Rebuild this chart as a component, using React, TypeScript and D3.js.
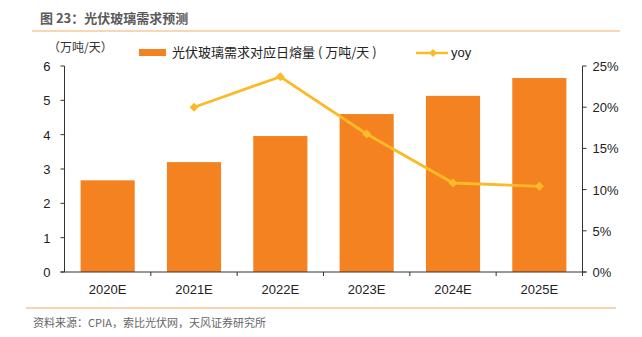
import React from "react";
import * as d3 from "d3";

const categories = ["2020E", "2021E", "2022E", "2023E", "2024E", "2025E"];
const meltVolume = [2.67, 3.2, 3.96, 4.6, 5.13, 5.65];
const yoy: (number | null)[] = [null, 0.2, 0.237, 0.1675, 0.108, 0.104];
const leftTicks = [0, 1, 2, 3, 4, 5, 6];
const rightTicks = [0, 0.05, 0.1, 0.15, 0.2, 0.25];

const BAR = "#F58220";
const LINE = "#FBBA28";
const FONT = "Arial, 'Liberation Sans', 'Noto Sans CJK SC', sans-serif";

export default function App() {
  const W = 642, H = 337;
  const x0 = 64.5, x1 = 582.5, yTop = 66, yBot = 272;
  const x = d3.scaleBand<string>().domain(categories).range([x0, x1]).paddingInner(0.373).paddingOuter(0.1865);
  const band = d3.scaleBand<string>().domain(categories).range([x0, x1]);
  const yL = d3.scaleLinear().domain([0, 6]).range([yBot, yTop]);
  const yR = d3.scaleLinear().domain([0, 0.25]).range([yBot, yTop]);
  const pts = categories
    .map((c, i) => ({ c, v: yoy[i] }))
    .filter((d) => d.v !== null) as { c: string; v: number }[];
  const line = d3
    .line<{ c: string; v: number }>()
    .x((d) => band(d.c)! + band.bandwidth() / 2)
    .y((d) => yR(d.v));
  const diamond = (cx: number, cy: number, r: number) =>
    `M${cx},${cy - r}L${cx + r},${cy}L${cx},${cy + r}L${cx - r},${cy}Z`;

  return (
    <svg width={W} height={H} style={{ position: "absolute", left: 0, top: 0, background: "#fff" }} fontFamily={FONT}>
      <text x={40} y={23} fontSize={13} fontWeight="bold" fill="#5a5a5a" fontFamily="'Noto Sans CJK SC', sans-serif">图 23：光伏玻璃需求预测</text>
      <line x1={32} x2={620} y1={31} y2={31} stroke="#F8C89C" strokeWidth={1.5} />

      <text x={48} y={52} fontSize={12} fill="#333" fontFamily="'Noto Sans CJK SC', sans-serif">（万吨/天）</text>

      {/* legend */}
      <rect x={139} y={49} width={27} height={7} fill={BAR} />
      <text x={172} y={57} fontSize={13} fill="#222" fontFamily="'Noto Sans CJK SC', sans-serif">光伏玻璃需求对应日熔量 ( 万吨/天 )</text>
      <line x1={416} x2={448} y1={53} y2={53} stroke={LINE} strokeWidth={2.5} />
      <path d={diamond(433, 53, 4)} fill={LINE} />
      <text x={451} y={57} fontSize={13} fill="#222">yoy</text>

      {/* bars */}
      {categories.map((c, i) => (
        <rect key={c} x={x(c)} y={yL(meltVolume[i])} width={x.bandwidth()} height={yBot - yL(meltVolume[i])} fill={BAR} />
      ))}

      {/* left axis */}
      <line x1={x0} x2={x0} y1={yTop} y2={yBot} stroke="#333" strokeWidth={1} />
      {leftTicks.map((t) => (
        <g key={t}>
          <line x1={x0 - 4} x2={x0} y1={yL(t)} y2={yL(t)} stroke="#333" />
          <text x={x0 - 14} y={yL(t) + 5} fontSize={13} fill="#222" textAnchor="end">{t}</text>
        </g>
      ))}
      {/* right axis */}
      <line x1={x1} x2={x1} y1={yTop} y2={yBot} stroke="#333" strokeWidth={1} />
      {rightTicks.map((t) => (
        <g key={t}>
          <line x1={x1} x2={x1 + 4} y1={yR(t)} y2={yR(t)} stroke="#333" />
          <text x={x1 + 10} y={yR(t) + 5} fontSize={13} fill="#222">{`${Math.round(t * 100)}%`}</text>
        </g>
      ))}
      {/* bottom axis */}
      <line x1={x0 - 4} x2={x1 + 4} y1={yBot} y2={yBot} stroke="#333" strokeWidth={1} />
      {categories.map((c) => (
        <g key={c}>
          <line x1={band(c)! + band.bandwidth()} x2={band(c)! + band.bandwidth()} y1={yBot} y2={yBot + 4} stroke="#333" />
          <text x={band(c)! + band.bandwidth() / 2} y={yBot + 22} fontSize={13} fill="#222" textAnchor="middle">{c}</text>
        </g>
      ))}

      {/* yoy line */}
      <path d={line(pts)!} fill="none" stroke={LINE} strokeWidth={2.8} />
      {pts.map((d) => (
        <path key={d.c} d={diamond(band(d.c)! + band.bandwidth() / 2, yR(d.v), 4.5)} fill={LINE} />
      ))}

      <line x1={26} x2={616} y1={308} y2={308} stroke="#F5A35A" strokeWidth={1} />
      <text x={33} y={327} fontSize={11} fill="#666" fontFamily="'Noto Sans CJK SC', sans-serif">资料来源：CPIA，索比光伏网，天风证券研究所</text>
    </svg>
  );
}
